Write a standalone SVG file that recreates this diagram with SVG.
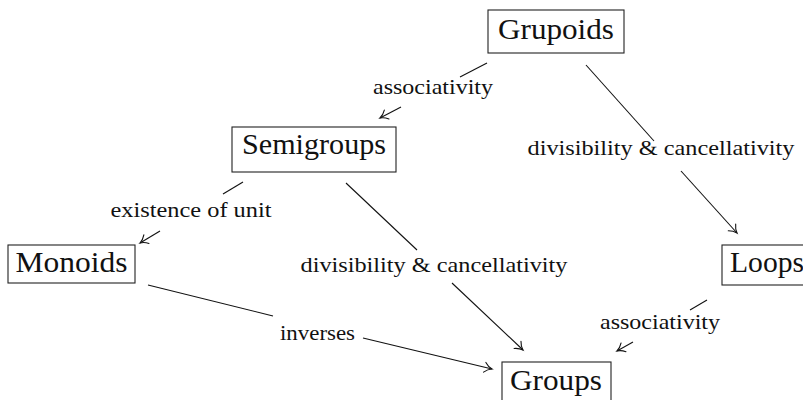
<svg xmlns="http://www.w3.org/2000/svg" width="803" height="400" viewBox="0 0 803 400">
<style>
.box{fill:#fff;stroke:#222;stroke-width:1.1}
text{font-family:'Liberation Serif','Times New Roman','DejaVu Serif',serif;fill:#111;text-anchor:middle}
.nt{font-size:29px}
.lt{font-size:22px}
.e{stroke:#111;stroke-width:1.1;fill:none}
.a{marker-end:url(#to)}
</style>
<defs>
<marker id="to" markerUnits="userSpaceOnUse" markerWidth="14" markerHeight="14" viewBox="-10 -7 12 14" refX="0" refY="0" orient="auto">
<path d="M-7.5,-5 C-5,-2.2 -2,-0.6 0,0 C-2,0.6 -5,2.2 -7.5,5" fill="none" stroke="#111" stroke-width="1.1" stroke-linecap="round"/>
</marker>
</defs>
<g id="connectors">
<line class="e" x1="487" y1="63" x2="460" y2="77"/>
<line class="e a" x1="401" y1="107" x2="380" y2="118"/>
<line class="e" x1="586" y1="65" x2="654" y2="141"/>
<line class="e a" x1="681" y1="171" x2="737" y2="233"/>
<line class="e" x1="243" y1="182" x2="223" y2="194"/>
<line class="e a" x1="160" y1="231" x2="140" y2="243"/>
<line class="e" x1="346" y1="183" x2="417" y2="250"/>
<line class="e a" x1="452" y1="283" x2="523" y2="350"/>
<line class="e" x1="148" y1="285" x2="273" y2="316"/>
<line class="e a" x1="363" y1="338" x2="492" y2="369"/>
<line class="e" x1="707" y1="300" x2="690" y2="310"/>
<line class="e a" x1="633" y1="342" x2="617" y2="351"/>
<text class="lt" font-family="Liberation Serif, serif" x="433" y="94" textLength="120" lengthAdjust="spacingAndGlyphs">associativity</text>
<text class="lt" font-family="Liberation Serif, serif" x="661" y="155" textLength="267" lengthAdjust="spacingAndGlyphs">divisibility &amp; cancellativity</text>
<text class="lt" font-family="Liberation Serif, serif" x="191" y="217" textLength="161" lengthAdjust="spacingAndGlyphs">existence of unit</text>
<text class="lt" font-family="Liberation Serif, serif" x="434" y="272" textLength="267" lengthAdjust="spacingAndGlyphs">divisibility &amp; cancellativity</text>
<text class="lt" font-family="Liberation Serif, serif" x="317.5" y="340" textLength="75" lengthAdjust="spacingAndGlyphs">inverses</text>
<text class="lt" font-family="Liberation Serif, serif" x="660" y="329" textLength="120" lengthAdjust="spacingAndGlyphs">associativity</text>
</g>
<g id="grupoids">
<rect class="box" x="488" y="10" width="136" height="43"/>
<text class="nt" font-family="Liberation Serif, serif" x="556" y="39" textLength="116" lengthAdjust="spacingAndGlyphs">Grupoids</text>
</g>
<g id="semigroups">
<rect class="box" x="232" y="127" width="164" height="45"/>
<text class="nt" font-family="Liberation Serif, serif" x="314" y="154" textLength="144" lengthAdjust="spacingAndGlyphs">Semigroups</text>
</g>
<g id="monoids">
<rect class="box" x="8" y="245" width="127" height="38"/>
<text class="nt" font-family="Liberation Serif, serif" x="71.5" y="272" textLength="112" lengthAdjust="spacingAndGlyphs">Monoids</text>
</g>
<g id="loops">
<rect class="box" x="722" y="245" width="90" height="40"/>
<text class="nt" font-family="Liberation Serif, serif" x="767" y="272" textLength="74" lengthAdjust="spacingAndGlyphs">Loops</text>
</g>
<g id="groups">
<rect class="box" x="502" y="362" width="109" height="46"/>
<text class="nt" font-family="Liberation Serif, serif" x="556" y="390" textLength="92" lengthAdjust="spacingAndGlyphs">Groups</text>
</g>
</svg>
